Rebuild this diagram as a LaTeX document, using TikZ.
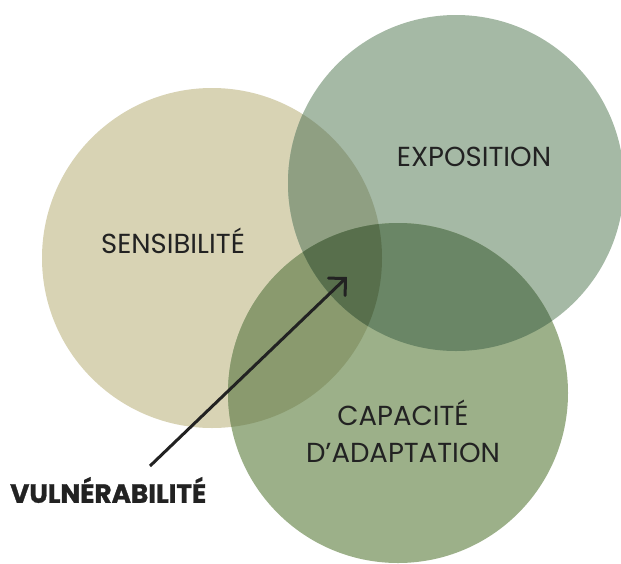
\documentclass[tikz,border=0pt]{standalone}
\usepackage{fontspec}
\setmainfont{Poppins}
\newfontfamily\heavy{Poppins}[BoldFeatures={FakeBold=1.2}]
\usetikzlibrary{arrows.meta}
\definecolor{cS}{HTML}{D8D3B4}
\definecolor{cE}{HTML}{A5B9A5}
\definecolor{cC}{HTML}{9CB089}
\definecolor{cSE}{HTML}{8F9F82}
\definecolor{cSC}{HTML}{8A9A6E}
\definecolor{cEC}{HTML}{6A8666}
\definecolor{cSEC}{HTML}{586F4C}
\definecolor{ink}{HTML}{222222}
\tikzset{
  lbl/.style={text=ink, font=\fontsize{27.5}{37}\selectfont, align=center, inner sep=0pt},
  vlbl/.style={text=ink, font=\heavy\fontsize{26.3}{30}\selectfont\bfseries, inner sep=0pt},
  arr/.style={draw=ink, line width=3pt, -{Straight Barb[angle=90:17pt, line cap=round]}}
}
\begin{document}
\begin{tikzpicture}[x=1pt,y=-1pt]
\useasboundingbox (0,0) rectangle (621,563);
\def\Sc{(212,258) circle[radius=170]}
\def\Ec{(456,183) circle[radius=168]}
\def\Cc{(398,393) circle[radius=170]}
\fill[cS] \Sc;
\fill[cE] \Ec;
\fill[cC] \Cc;
\begin{scope}\clip \Sc; \fill[cSE] \Ec; \fill[cSC] \Cc; \end{scope}
\begin{scope}\clip \Ec; \fill[cEC] \Cc; \end{scope}
\begin{scope}\clip \Sc; \clip \Ec; \fill[cSEC] \Cc; \end{scope}
\node[lbl] (sens) at (173,241) {SENSIBILITÉ};
\node[lbl] (expo) at (474,157) {EXPOSITION};
\node[lbl] (capa) at (403,431) {CAPACITÉ\\D’ADAPTATION};
\node[vlbl, anchor=west] (vuln) at (10,490) {VULNÉRABILITÉ};
\coordinate (a0) at (150,466);
\coordinate (a1) at (347,277);
\draw[arr] (a0) -- (a1);
\end{tikzpicture}
\end{document}
